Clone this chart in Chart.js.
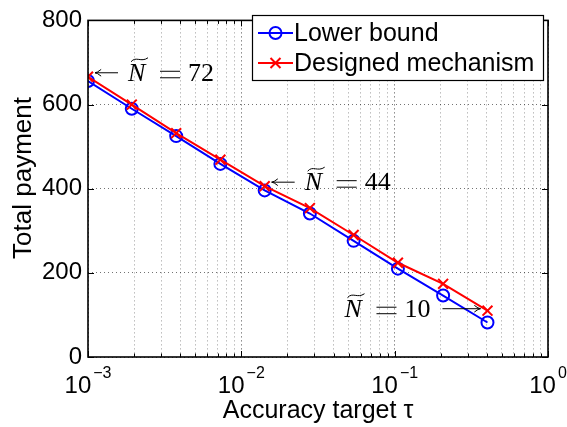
<!DOCTYPE html>
<html>
<head>
<meta charset="utf-8">
<script src="https://cdn.jsdelivr.net/npm/chart.js@4.4.0/dist/chart.umd.min.js"></script>
<style>
  html, body { margin: 0; padding: 0; background: #fff; }
</style>
</head>
<body>
<canvas id="chart" width="567" height="427"></canvas>
<script>
const tau = [0.001, 0.00193, 0.00376, 0.0073, 0.0142, 0.028, 0.054, 0.105, 0.207, 0.403];
const lowerBound = [656, 590, 525, 459, 396, 341, 276, 210, 146, 82];
const designed = [666, 600, 532, 469, 406, 354, 290, 224, 174, 110];

const yTicks = [0, 200, 400, 600, 800];
const xDecades = [1e-3, 1e-2, 1e-1, 1];
const xDecadeExponents = ["\u22123", "\u22122", "\u22121", "0"];

const seriesNames = ["Lower bound", "Designed mechanism"];
const annotations = [
  { index: 0, label: "72", side: "right" },
  { index: 4, label: "44", side: "right" },
  { index: 9, label: "10", side: "left" },
];

const SANS = "'Liberation Sans', Arial, Helvetica, sans-serif";
const SERIF = "'Liberation Serif', 'Times New Roman', serif";

function buildLogTicks() {
  const ticks = [];
  for (let d = 0; d < xDecades.length - 1; d++) {
    for (let k = 1; k <= 9; k++) {
      ticks.push({ value: k * xDecades[d] });
    }
  }
  ticks.push({ value: xDecades[xDecades.length - 1] });
  return ticks;
}

function isDecade(v) {
  const l = Math.log10(v);
  return Math.abs(l - Math.round(l)) < 1e-9;
}

function drawArrow(ctx, x1, y1, x2, y2) {
  // line from (x1,y1) to tip at (x2,y2)
  const ang = Math.atan2(y2 - y1, x2 - x1);
  ctx.beginPath();
  ctx.moveTo(x1, y1);
  ctx.lineTo(x2, y2);
  ctx.moveTo(x2 - 7 * Math.cos(ang - 0.5), y2 - 7 * Math.sin(ang - 0.5));
  ctx.quadraticCurveTo(x2 - 2 * Math.cos(ang), y2 - 2 * Math.sin(ang), x2, y2);
  ctx.quadraticCurveTo(x2 - 2 * Math.cos(ang), y2 - 2 * Math.sin(ang), x2 - 7 * Math.cos(ang + 0.5), y2 - 7 * Math.sin(ang + 0.5));
  ctx.stroke();
}

function drawNTilde(ctx, x, baseline, value) {
  ctx.textAlign = "left";
  ctx.textBaseline = "alphabetic";
  ctx.font = "italic 26px " + SERIF;
  ctx.fillText("N", x, baseline);
  // wide tilde
  ctx.beginPath();
  ctx.moveTo(x + 3, baseline - 19);
  ctx.bezierCurveTo(x + 8, baseline - 25, x + 13, baseline - 18, x + 20, baseline - 23);
  ctx.stroke();
  // equals sign
  ctx.beginPath();
  ctx.moveTo(x + 32, baseline - 9.5);
  ctx.lineTo(x + 52, baseline - 9.5);
  ctx.moveTo(x + 32, baseline - 3);
  ctx.lineTo(x + 52, baseline - 3);
  ctx.stroke();
  ctx.font = "26px " + SERIF;
  ctx.fillText(value, x + 60, baseline);
  return 60 + ctx.measureText(value).width;
}

const decorPlugin = {
  id: "decor",
  afterDraw(chart) {
    const ctx = chart.ctx;
    const area = chart.chartArea;
    const xs = chart.scales.x;
    const ys = chart.scales.y;
    ctx.save();
    ctx.fillStyle = "#000";
    ctx.strokeStyle = "#000";

    // inward ticks on all four sides
    ctx.lineWidth = 1;
    ctx.beginPath();
    xs.ticks.forEach((t) => {
      const px = Math.round(xs.getPixelForValue(t.value)) + 0.5;
      const len = isDecade(t.value) ? 6 : 3.5;
      ctx.moveTo(px, area.bottom);
      ctx.lineTo(px, area.bottom - len);
      ctx.moveTo(px, area.top);
      ctx.lineTo(px, area.top + len);
    });
    yTicks.forEach((v) => {
      const py = Math.round(ys.getPixelForValue(v)) + 0.5;
      ctx.moveTo(area.left, py);
      ctx.lineTo(area.left + 6, py);
      ctx.moveTo(area.right, py);
      ctx.lineTo(area.right - 6, py);
    });
    ctx.stroke();

    // axes box
    ctx.lineWidth = 1.6;
    ctx.strokeRect(area.left, area.top, area.right - area.left, area.bottom - area.top);

    // x tick labels 10^k
    xDecades.forEach((v, i) => {
      const px = xs.getPixelForValue(v);
      ctx.font = "24px " + SANS;
      const wBase = ctx.measureText("10").width;
      ctx.font = "16px " + SANS;
      const wExp = ctx.measureText(xDecadeExponents[i]).width;
      const start = px - (wBase + 2 + wExp) / 2;
      ctx.textAlign = "left";
      ctx.textBaseline = "alphabetic";
      ctx.font = "24px " + SANS;
      ctx.fillText("10", start, 392.5);
      ctx.font = "16px " + SANS;
      ctx.fillText(xDecadeExponents[i], start + wBase + 2, 378);
    });

    // axis titles
    ctx.font = "25px " + SANS;
    ctx.textAlign = "center";
    ctx.textBaseline = "alphabetic";
    ctx.fillText("Accuracy target \u03c4", (area.left + area.right) / 2, 418);
    ctx.save();
    ctx.translate(31, 178);
    ctx.rotate(-Math.PI / 2);
    ctx.font = "26px " + SANS;
    ctx.fillText("Total payment", 0, 0);
    ctx.restore();

    // annotations
    ctx.lineWidth = 1;
    annotations.forEach((a) => {
      const px = xs.getPixelForValue(tau[a.index]);
      const py = ys.getPixelForValue(designed[a.index]);
      if (a.side === "right") {
        drawArrow(ctx, px + 30, py - 4, px + 7, py - 4);
        drawNTilde(ctx, px + 40, py + 4, a.label);
      } else {
        drawArrow(ctx, px - 45, py - 2, px - 7, py - 2);
        ctx.font = "26px " + SERIF;
        const w = 60 + ctx.measureText(a.label).width;
        drawNTilde(ctx, px - 57 - w, py + 6, a.label);
      }
    });

    // legend
    const lx = 252, ly = 15, lw = 291, lh = 65;
    ctx.fillStyle = "#fff";
    ctx.fillRect(lx, ly, lw, lh);
    ctx.strokeStyle = "#000";
    ctx.lineWidth = 1.2;
    ctx.strokeRect(lx + 0.5, ly + 0.5, lw, lh);
    const rows = [
      { y: ly + 18, color: "#0000ff", marker: "circle" },
      { y: ly + 48, color: "#ff0000", marker: "cross" },
    ];
    rows.forEach((r, i) => {
      ctx.strokeStyle = r.color;
      ctx.lineWidth = 2;
      ctx.beginPath();
      ctx.moveTo(lx + 6, r.y);
      ctx.lineTo(lx + 41, r.y);
      ctx.stroke();
      const mx = lx + 23.5;
      ctx.beginPath();
      if (r.marker === "circle") {
        ctx.arc(mx, r.y, 6, 0, Math.PI * 2);
      } else {
        ctx.moveTo(mx - 5, r.y - 5);
        ctx.lineTo(mx + 5, r.y + 5);
        ctx.moveTo(mx - 5, r.y + 5);
        ctx.lineTo(mx + 5, r.y - 5);
      }
      ctx.stroke();
      ctx.fillStyle = "#000";
      ctx.font = "25px " + SANS;
      ctx.textAlign = "left";
      ctx.textBaseline = "middle";
      ctx.fillText(seriesNames[i], lx + 42, r.y + 1);
    });

    ctx.restore();
  },
};

const ctx = document.getElementById("chart");

new Chart(ctx, {
  type: "line",
  data: {
    datasets: [
      {
        label: seriesNames[0],
        data: tau.map((t, i) => ({ x: t, y: lowerBound[i] })),
        borderColor: "#0000ff",
        backgroundColor: "rgba(0,0,0,0)",
        borderWidth: 2,
        pointStyle: "circle",
        pointRadius: 6,
        pointBorderWidth: 2,
        pointBorderColor: "#0000ff",
        pointBackgroundColor: "rgba(0,0,0,0)",
        tension: 0,
        order: 1,
      },
      {
        label: seriesNames[1],
        data: tau.map((t, i) => ({ x: t, y: designed[i] })),
        borderColor: "#ff0000",
        backgroundColor: "rgba(0,0,0,0)",
        borderWidth: 2,
        pointStyle: "crossRot",
        pointRadius: 7,
        pointBorderWidth: 2,
        pointBorderColor: "#ff0000",
        tension: 0,
        order: 0,
      },
    ],
  },
  options: {
    responsive: false,
    devicePixelRatio: 1,
    animation: false,
    layout: { padding: { top: 11, right: 19, left: 0, bottom: 0 } },
    scales: {
      x: {
        type: "logarithmic",
        min: 1e-3,
        max: 1,
        afterBuildTicks: (scale) => {
          scale.ticks = buildLogTicks();
        },
        afterFit: (scale) => {
          scale.height = 70;
        },
        ticks: { display: false },
        grid: {
          drawTicks: false,
          lineWidth: 1,
          color: (c) => (c.tick && isDecade(c.tick.value) ? "rgba(0,0,0,0.7)" : "rgba(0,0,0,0.4)"),
        },
        border: { display: false, dash: [1, 3] },
      },
      y: {
        type: "linear",
        min: 0,
        max: 800,
        afterBuildTicks: (scale) => {
          scale.ticks = yTicks.map((v) => ({ value: v }));
        },
        afterFit: (scale) => {
          scale.width = 88;
        },
        ticks: {
          color: "#000",
          padding: 6,
          font: { family: SANS, size: 24 },
        },
        grid: {
          drawTicks: false,
          lineWidth: 1,
          color: "rgba(0,0,0,0.55)",
        },
        border: { display: false, dash: [1, 3] },
      },
    },
    plugins: {
      legend: { display: false },
      tooltip: { enabled: false },
    },
  },
  plugins: [decorPlugin],
});
</script>
</body>
</html>
